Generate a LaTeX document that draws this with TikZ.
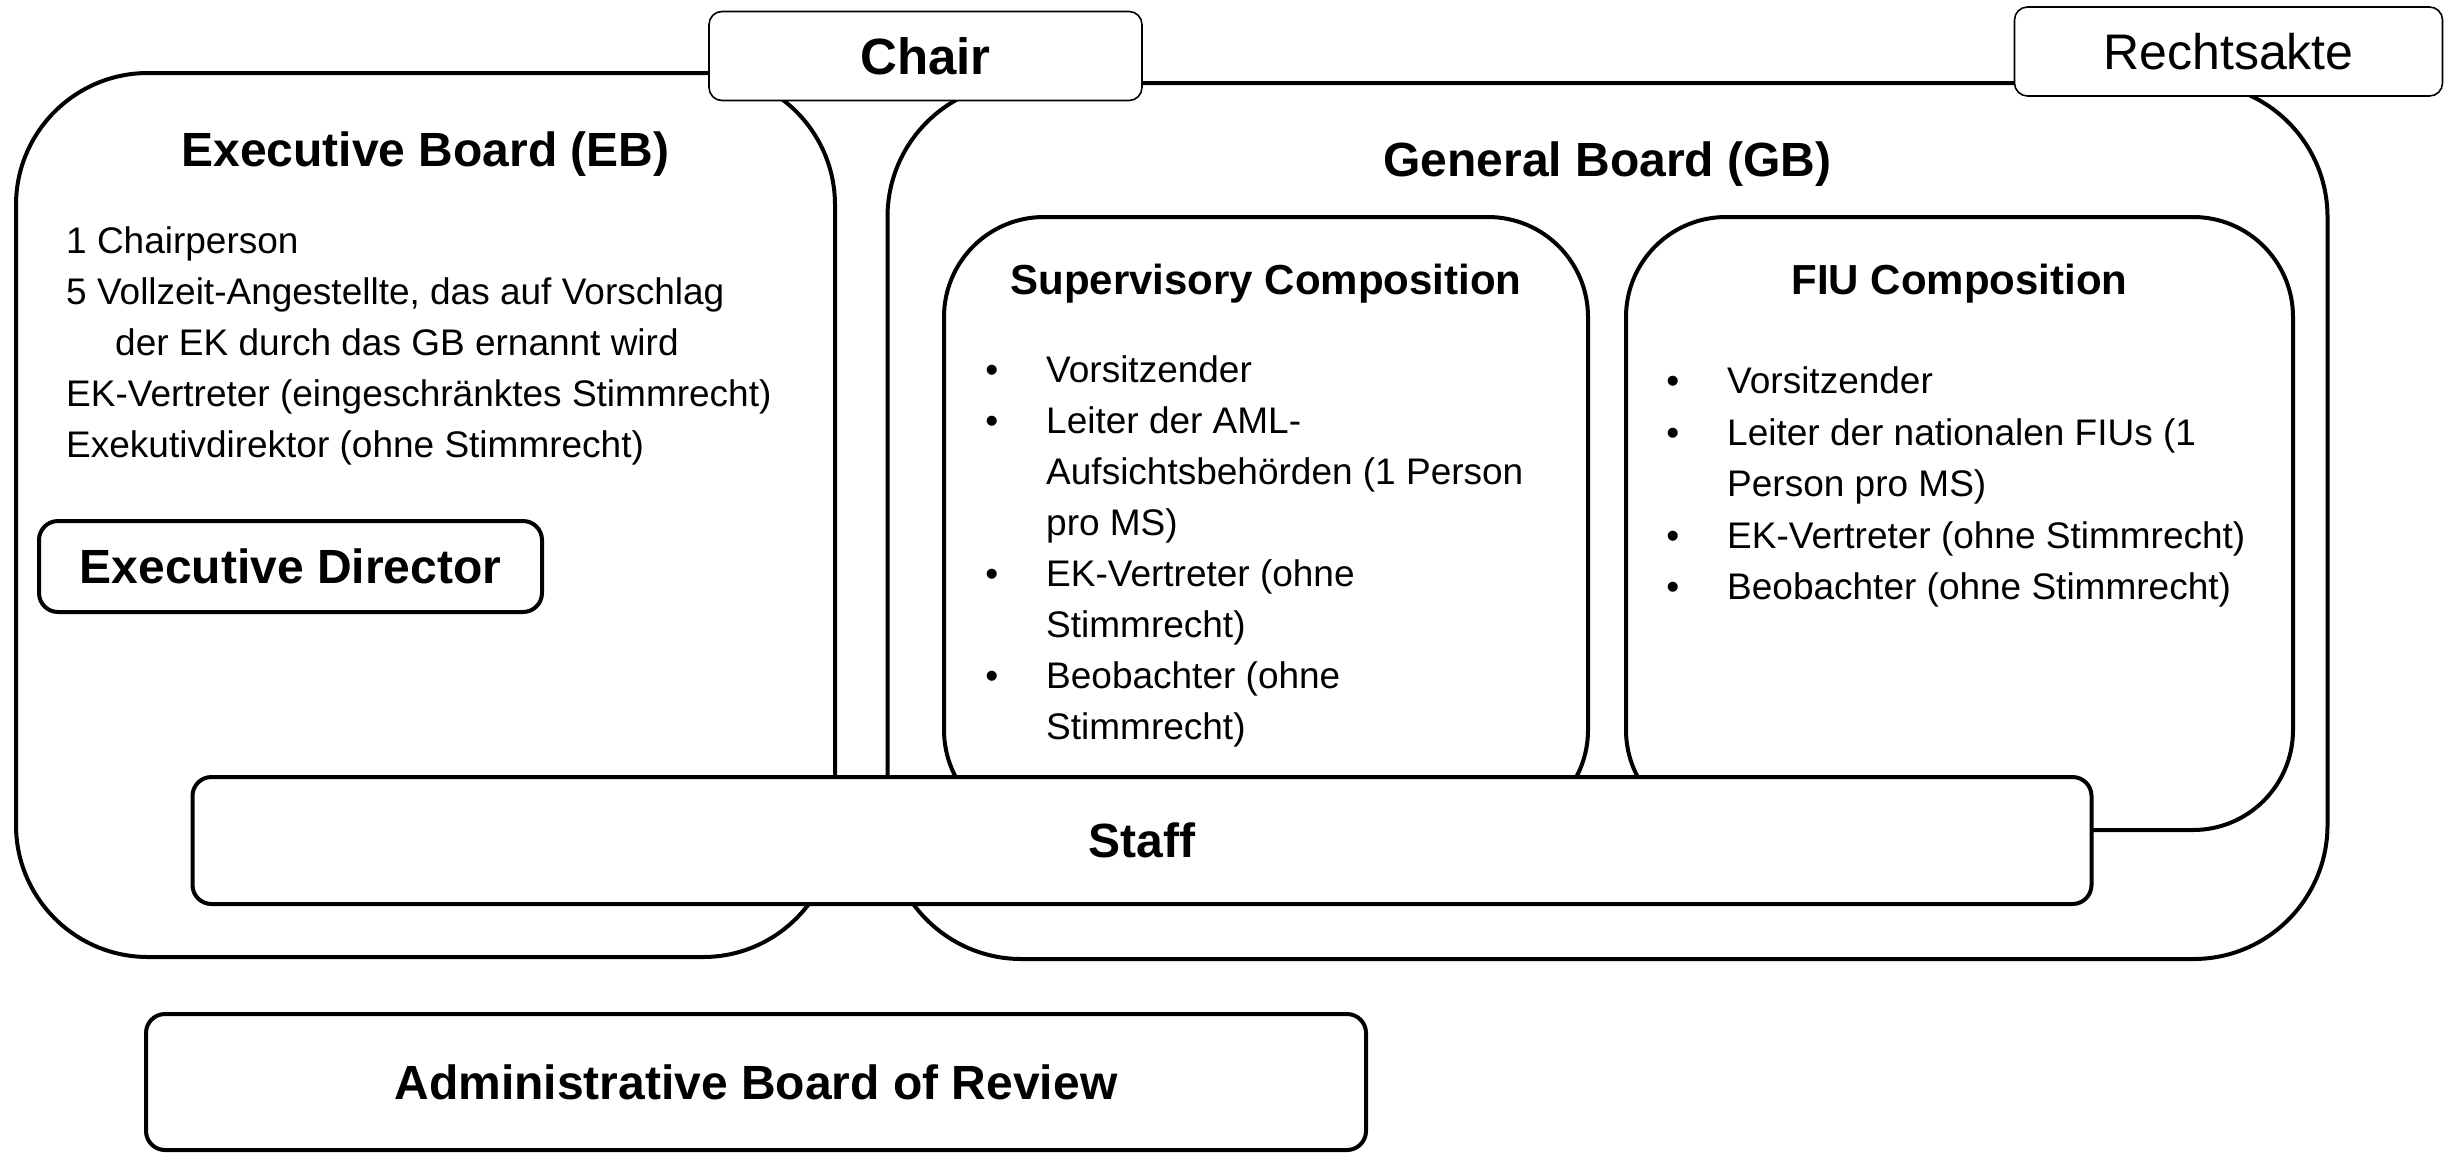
\documentclass[tikz,border=0pt]{standalone}
\usepackage{fontspec}
\setmainfont{Liberation Sans}
\newcommand\bodyfnt{\fontsize{37pt}{51pt}\selectfont}
\newcommand\titlefnt{\fontsize{48pt}{58pt}\selectfont\bfseries}
\newcommand\subtitlefnt{\fontsize{42pt}{50pt}\selectfont\bfseries}
\newcommand\chairfnt{\fontsize{51pt}{60pt}\selectfont\bfseries}
\newcommand\rechtfnt{\fontsize{50pt}{60pt}\selectfont}
\newcommand\bul{\llap{\textbullet\hspace{48pt}}}
\begin{document}
\begin{tikzpicture}[x=1pt,y=-1pt,
  thickbox/.style={draw=black, line width=4pt, fill=white, rounded corners=#1, inner sep=0pt},
  thickbox/.default=19pt,
  thinbox/.style={draw=black, line width=1.6pt, fill=white, rounded corners=13pt, inner sep=0pt},
  body/.style={font=\bodyfnt, anchor=base west, inner sep=0pt},
  title/.style={font=\titlefnt, anchor=base, inner sep=0pt},
  subtitle/.style={font=\subtitlefnt, anchor=base, inner sep=0pt}]
\useasboundingbox[fill=white] (0,0) rectangle (2444,1152);
% big containers
\node[thickbox=132pt, minimum width=819pt, minimum height=884pt] (eb) at (425.5,515) {};
\node[thickbox=134pt, minimum width=1440pt, minimum height=876pt] (gb) at (1607.5,521) {};
\node[thickbox=100pt, minimum width=644pt, minimum height=613pt] (sup) at (1266,523.5) {};
\node[thickbox=100pt, minimum width=667pt, minimum height=613pt] (fiu) at (1959.5,523.5) {};
% small boxes
\node[thinbox, minimum width=433pt, minimum height=89pt, font=\chairfnt] (chair) at (925.5,56) {Chair};
\node[thinbox, minimum width=428pt, minimum height=89pt, font=\rechtfnt] (recht) at (2228.5,51.5) {Rechtsakte};
\node[thickbox, minimum width=1899pt, minimum height=127pt, font=\titlefnt] (staff) at (1142,840.5) {Staff};
\node[thickbox, minimum width=503pt, minimum height=91pt, font=\titlefnt] (ed) at (290.5,566.5) {Executive Director};
\node[thickbox, minimum width=1220pt, minimum height=136pt, font=\titlefnt] (admin) at (756,1082) {Administrative Board of Review};
% titles
\node[title] (ebtitle) at (425.5,166) {Executive Board (EB)};
\node[title] (gbtitle) at (1607.5,176) {General Board (GB)};
\node[subtitle] (suptitle) at (1266,294) {Supervisory Composition};
\node[subtitle] (fiutitle) at (1959.5,294) {FIU Composition};
% EB text
\node[body] (eb1) at (66,253) {1 Chairperson};
\node[body] (eb2) at (66,304) {5 Vollzeit-Angestellte, das auf Vorschlag};
\node[body] (eb3) at (115,355) {der EK durch das GB ernannt wird};
\node[body] (eb4) at (66,406) {EK-Vertreter (eingeschränktes Stimmrecht)};
\node[body] (eb5) at (66,457) {Exekutivdirektor (ohne Stimmrecht)};
% Supervisory list
\node[body] (s1) at (1046,382) {\bul Vorsitzender};
\node[body] (s2) at (1046,433) {\bul Leiter der AML-};
\node[body] (s3) at (1046,484) {Aufsichtsbehörden (1 Person};
\node[body] (s4) at (1046,535) {pro MS)};
\node[body] (s5) at (1046,586) {\bul EK-Vertreter (ohne};
\node[body] (s6) at (1046,637) {Stimmrecht)};
\node[body] (s7) at (1046,688) {\bul Beobachter (ohne};
\node[body] (s8) at (1046,739) {Stimmrecht)};
% FIU list
\node[body] (f1) at (1727,393) {\bul Vorsitzender};
\node[body] (f2) at (1727,445) {\bul Leiter der nationalen FIUs (1};
\node[body] (f3) at (1727,496) {Person pro MS)};
\node[body] (f4) at (1727,548) {\bul EK-Vertreter (ohne Stimmrecht)};
\node[body] (f5) at (1727,599) {\bul Beobachter (ohne Stimmrecht)};
\end{tikzpicture}
\end{document}
